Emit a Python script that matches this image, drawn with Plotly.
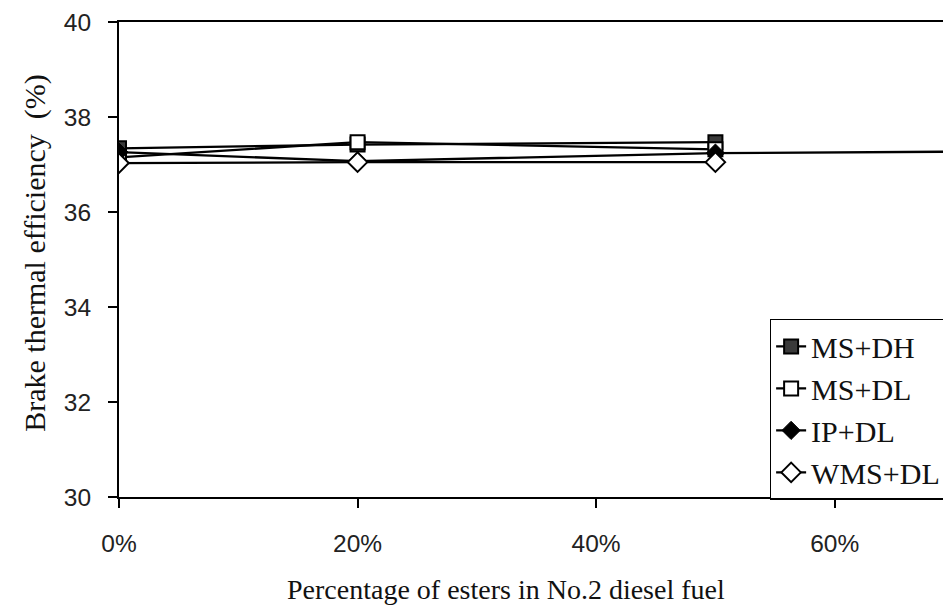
import plotly.graph_objects as go

x_pct = [0.0, 0.20, 0.50]
x_ip = [0.0, 0.20, 0.50, 0.70]
ms_dh = [37.34, 37.42, 37.47]
ms_dl = [37.15, 37.47, 37.32]
ip_dl = [37.26, 37.07, 37.24, 37.27]
wms_dl = [37.03, 37.05, 37.05]

series = [
    ("MS+DH", x_pct, ms_dh, dict(symbol="square", size=14, color="#3a3a3a", line=dict(color="black", width=2))),
    ("MS+DL", x_pct, ms_dl, dict(symbol="square", size=14, color="white", line=dict(color="black", width=2))),
    ("IP+DL", x_ip, ip_dl, dict(symbol="diamond", size=14, color="black", line=dict(color="black", width=1))),
    ("WMS+DL", x_pct, wms_dl, dict(symbol="diamond", size=15, color="white", line=dict(color="black", width=2))),
]

fig = go.Figure()
for i, (name, xs, ys, mk) in enumerate(series):
    fig.add_trace(go.Scatter(
        x=xs, y=ys, name=name, mode="lines+markers",
        line=dict(color="black", width=2.3), marker=mk,
        legendgroup=f"g{i}",
    ))

serif = "Liberation Serif, Times New Roman, serif"
sans = "Liberation Sans, Arial, sans-serif"

fig.update_layout(
    width=943, height=601,
    margin=dict(l=111, r=0, t=14, b=112, autoexpand=False),
    paper_bgcolor="white", plot_bgcolor="white",
    showlegend=True,
    legend=dict(
        x=0.782, y=0.375, xanchor="left", yanchor="top",
        bgcolor="white", bordercolor="black", borderwidth=1.5,
        font=dict(family=serif, size=30, color="#111"),
        traceorder="grouped", tracegroupgap=0,
        itemwidth=30,
    ),
    xaxis=dict(
        range=[0, 0.6975], tickvals=[0, 0.2, 0.4, 0.6], tickformat=".0%",
        showline=True, linecolor="black", linewidth=2, mirror=True,
        ticks="outside", ticklen=9, tickcolor="black", tickwidth=1.5,
        showgrid=False, zeroline=False,
        tickfont=dict(family=sans, size=24.5, color="#222"),
        ticklabelstandoff=15, ticklabeloverflow="allow",
    ),
    yaxis=dict(
        range=[30, 40], dtick=2,
        showline=True, linecolor="black", linewidth=2,
        ticks="outside", ticklen=9, tickcolor="black", tickwidth=1.5,
        showgrid=False, zeroline=False,
        tickfont=dict(family=sans, size=24.5, color="#222"),
        ticklabelstandoff=12, ticklabeloverflow="allow",
    ),
    yaxis2=dict(
        range=[30, 40], dtick=2, overlaying="y", side="left", anchor="x",
        ticks="inside", ticklen=9, tickcolor="black", tickwidth=1.5,
        showticklabels=False, showline=False, showgrid=False, zeroline=False,
    ),
    annotations=[
        dict(text="Percentage of esters in No.2 diesel fuel", xref="paper", yref="paper",
             x=0.465, y=-0.195, xanchor="center", yanchor="middle", showarrow=False,
             font=dict(family=serif, size=28, color="#111")),
        dict(text="Brake thermal efficiency&nbsp; (%)", xref="paper", yref="paper",
             x=-0.101, y=0.514, xanchor="center", yanchor="middle", showarrow=False,
             textangle=-90, font=dict(family=serif, size=30, color="#111")),
    ],
)

fig.write_html("out.html")
